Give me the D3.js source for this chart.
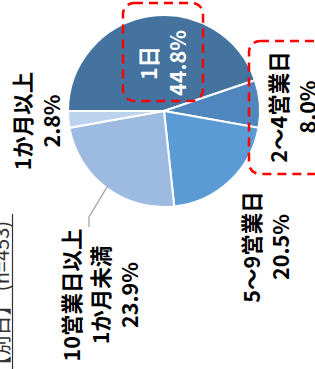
<!DOCTYPE html>
<html>
<head>
<meta charset="utf-8">
<script src="https://cdn.jsdelivr.net/npm/d3@7"></script>
<style>
  html, body { margin: 0; padding: 0; background: #fff; overflow: hidden; }
</style>
</head>
<body>
<div id="chart"></div>
<script>
// data
const categories = ["1日", "2～4営業日", "5～9営業日", "10営業日以上1か月未満", "1か月以上"];
const values = [44.8, 8.0, 20.5, 23.9, 2.8];
const labelLines = [
  ["1日", "44.8%"],
  ["2～4営業日", "8.0%"],
  ["5～9営業日", "20.5%"],
  ["10営業日以上", "1か月未満", "23.9%"],
  ["1か月以上", "2.8%"],
];
const sliceColors = ["#44739f", "#4e86bd", "#5a9bd5", "#9dbbe0", "#bdd2ed"];
const titleText = "所要日数【別日】 (n=453)";

// layout
const width = 315, height = 369;
const center = { x: 164, y: 111 };
const radius = 96;
// label centres, relative to the pie centre (screen coords)
const labelOffsets = [[-3, -48], [127, -4], [100, 136], [-65, 184], [-129, 10]];
const labelColors = ["#fff", "#000", "#000", "#000", "#000"];
const lineHeight = 29;

const svg = d3.select("#chart")
  .append("svg")
  .attr("width", width)
  .attr("height", height)
  .style("font-family", "'Noto Sans CJK JP', 'Noto Sans', sans-serif");

// pie, rotated so the first slice starts at 9 o'clock
const pie = d3.pie().sort(null)
  .startAngle(-Math.PI / 2)
  .endAngle(Math.PI * 1.5);
const arc = d3.arc().innerRadius(0).outerRadius(radius);

const pieG = svg.append("g")
  .attr("transform", `translate(${center.x},${center.y})`);

const arcs = pie(values);
pieG.selectAll("path")
  .data(arcs)
  .join("path")
  .attr("d", arc)
  .attr("fill", (d, i) => sliceColors[i])
  .attr("stroke", "#fff")
  .attr("stroke-width", 2);

// leader line for the 10営業日 slice, from the middle of its rim
const a3 = arcs[3];
const mid3 = (a3.startAngle + a3.endAngle) / 2;
const p0 = [Math.sin(mid3) * (radius - 2), -Math.cos(mid3) * (radius - 2)];
pieG.append("polyline")
  .attr("points", [p0, [-75, 106], [-75, 116]].map(p => p.join(",")).join(" "))
  .attr("fill", "none")
  .attr("stroke", "#a6a6a6")
  .attr("stroke-width", 1.3);

// labels, text rotated to read bottom to top
const labels = pieG.selectAll("g.label")
  .data(labelLines)
  .join("g")
  .attr("class", "label")
  .attr("transform", (d, i) => `translate(${labelOffsets[i][0]},${labelOffsets[i][1]}) rotate(-90)`);

labels.each(function (lines, i) {
  const t = d3.select(this).append("text")
    .attr("text-anchor", "middle")
    .attr("dominant-baseline", "central")
    .style("font-size", "21.5px")
    .style("font-weight", "bold")
    .style("fill", labelColors[i]);
  lines.forEach((s, k) => {
    t.append("tspan")
      .attr("x", 0)
      .attr("y", (k - (lines.length - 1) / 2) * lineHeight)
      .text(s);
  });
});

// red dashed callout boxes
const boxes = [
  { x: 123, y: 3, w: 80, h: 98 },
  { x: 249, y: 41, w: 90, h: 133 },
];
svg.selectAll("rect.callout")
  .data(boxes)
  .join("rect")
  .attr("class", "callout")
  .attr("x", d => d.x)
  .attr("y", d => d.y)
  .attr("width", d => d.w)
  .attr("height", d => d.h)
  .attr("rx", 11)
  .attr("fill", "none")
  .attr("stroke", "#ff0000")
  .attr("stroke-width", 2.5)
  .attr("stroke-dasharray", "9,6");

// title at the left edge, clipped by the frame as in the source
svg.append("text")
  .attr("transform", "translate(9,221) rotate(-90)")
  .attr("text-anchor", "end")
  .style("font-size", "20px")
  .style("fill", "#333")
  .text(titleText);

svg.append("line")
  .attr("x1", 12.5).attr("x2", 12.5)
  .attr("y1", 214).attr("y2", height)
  .attr("stroke", "#333")
  .attr("stroke-width", 1.2);
</script>
</body>
</html>
